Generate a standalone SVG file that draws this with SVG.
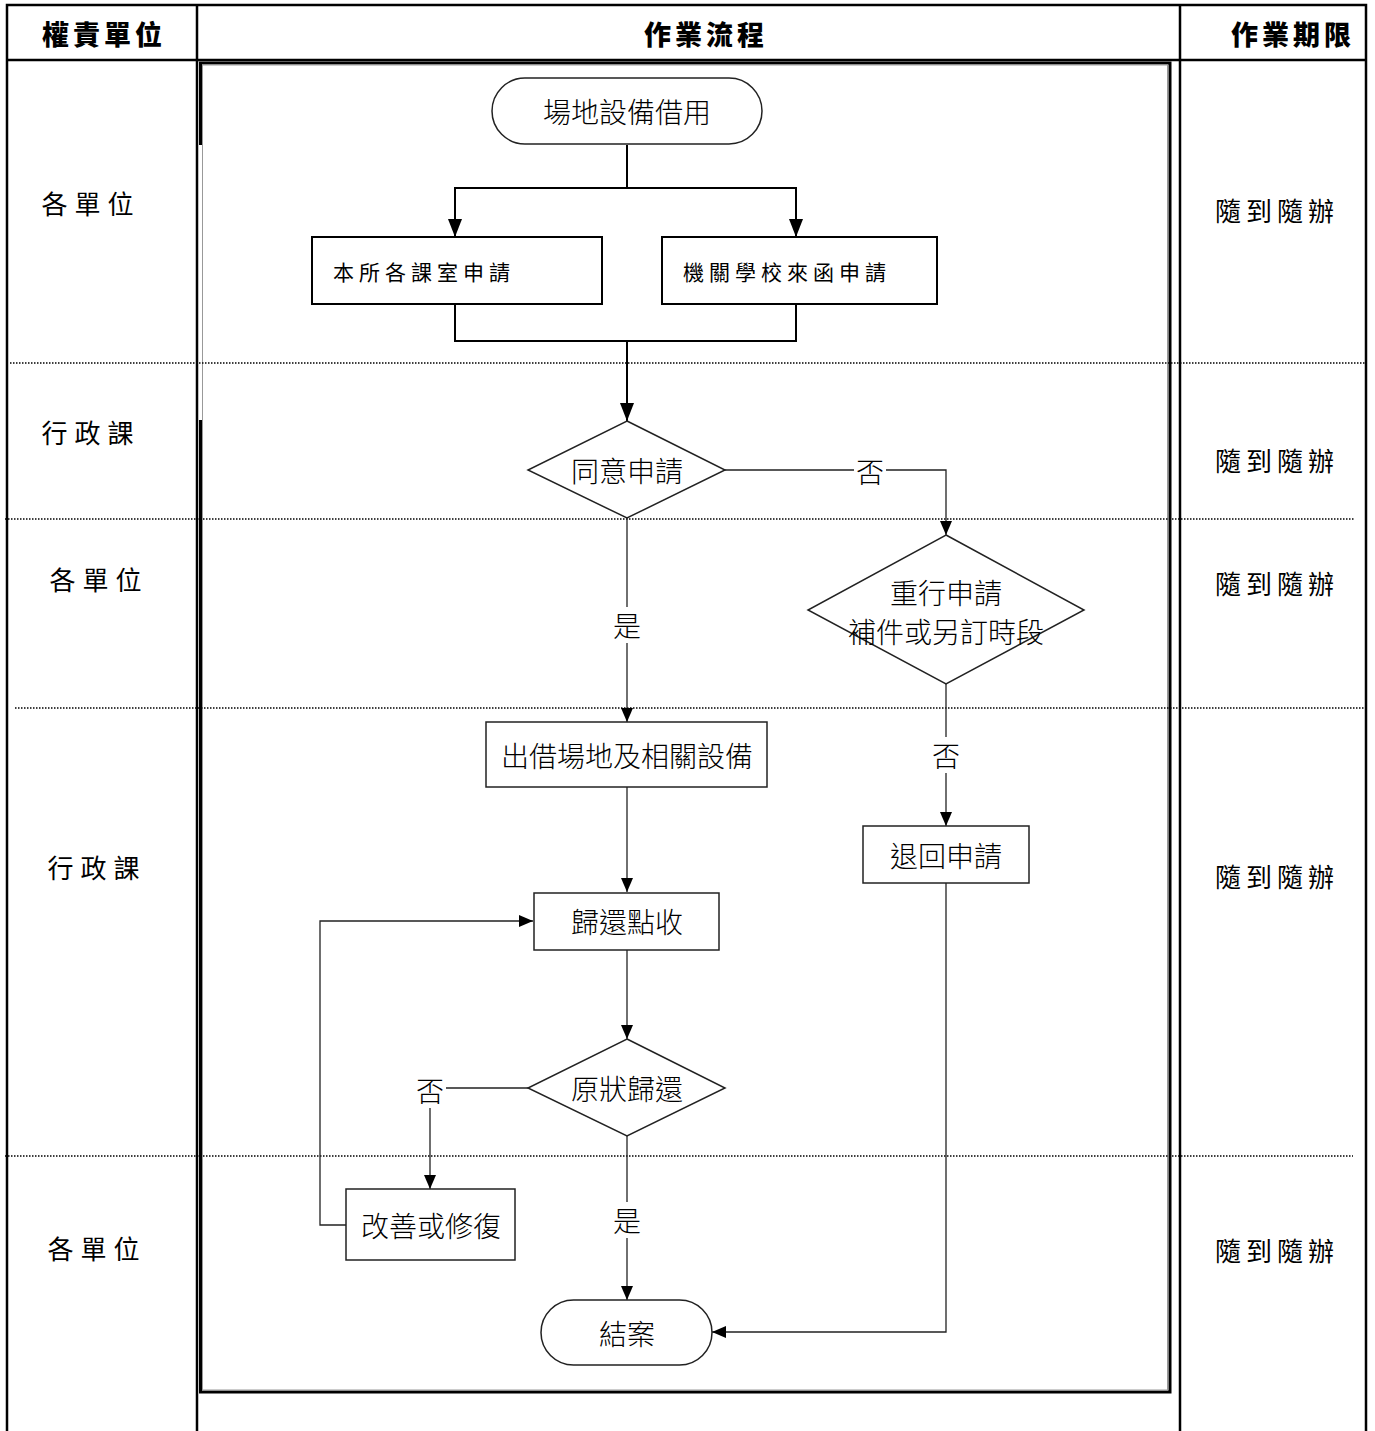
<svg xmlns="http://www.w3.org/2000/svg" width="1375" height="1431" viewBox="0 0 1375 1431">
<style>
text{font-family:"Noto Sans CJK TC","Noto Sans CJK SC",sans-serif;fill:#000;dominant-baseline:central}
.hd{font-size:27px;font-weight:900;letter-spacing:4px;text-anchor:middle}
.lane{font-size:26px;letter-spacing:7px;text-anchor:middle}
.due{font-size:26px;letter-spacing:5px;text-anchor:middle}
.sm{font-size:21px;letter-spacing:5px}
.big{font-size:28px;font-weight:300;text-anchor:middle}
.frame{fill:none;stroke:#000;stroke-width:2.5}
.dot{stroke:#000;stroke-width:1.5;stroke-dasharray:1.5 1.5;fill:none}
.thick{stroke:#000;stroke-width:2;fill:none}
.thin{stroke:#222;stroke-width:1.3;fill:none}
.box2{fill:#fff;stroke:#000;stroke-width:2}
.box{fill:#fff;stroke:#222;stroke-width:1.5}
.lbl{fill:#fff;stroke:none}
</style>
<defs>
<marker id="ah" markerUnits="userSpaceOnUse" viewBox="0 0 18 14" refX="18" refY="7" markerWidth="18" markerHeight="14" orient="auto"><path d="M0,0 L18,7 L0,14 z" fill="#000"/></marker>
<marker id="as" markerUnits="userSpaceOnUse" viewBox="0 0 14 12" refX="14" refY="6" markerWidth="14" markerHeight="12" orient="auto"><path d="M0,0 L14,6 L0,12 z" fill="#000"/></marker>
</defs>
<rect width="1375" height="1431" fill="#fff"/>
<g id="table">
<path class="frame" d="M7,1431 V5 H1366 V1431"/>
<line class="frame" x1="7" y1="60" x2="1366" y2="60"/>
<line class="frame" x1="197" y1="5" x2="197" y2="1431"/>
<line class="frame" x1="1180" y1="5" x2="1180" y2="1431"/>
<path d="M200.5,145 V63 H1170 V1392 H200.5 V420" fill="none" stroke="#000" stroke-width="3"/>
<rect x="202.5" y="65" width="965" height="1325" fill="none" stroke="#999" stroke-width="1"/>
<text class="hd" x="104" y="33">權責單位</text>
<text class="hd" x="706" y="33">作業流程</text>
<text class="hd" x="1293" y="33">作業期限</text>
</g>
<g id="lanes">
<line class="dot" x1="10" y1="363" x2="1367" y2="363"/>
<line class="dot" x1="5" y1="519" x2="1355" y2="519"/>
<line class="dot" x1="15" y1="708" x2="1367" y2="708"/>
<line class="dot" x1="5" y1="1156" x2="1353" y2="1156"/>
<text class="lane" x="91" y="202">各單位</text>
<text class="lane" x="91" y="431">行政課</text>
<text class="lane" x="99" y="578">各單位</text>
<text class="lane" x="97" y="866">行政課</text>
<text class="lane" x="97" y="1247">各單位</text>
<text class="due" x="1277" y="209">隨到隨辦</text>
<text class="due" x="1277" y="459">隨到隨辦</text>
<text class="due" x="1277" y="582">隨到隨辦</text>
<text class="due" x="1277" y="875">隨到隨辦</text>
<text class="due" x="1277" y="1249">隨到隨辦</text>
</g>
<g id="connectors">
<line class="thick" x1="627" y1="145" x2="627" y2="188"/>
<path class="thick" d="M455,237 V188 H796 V237" marker-end="url(#ah)"/>
<line class="thick" x1="455" y1="188" x2="455" y2="237" marker-end="url(#ah)"/>
<path class="thick" d="M455,304 V341 H796 V304"/>
<line class="thick" x1="627" y1="341" x2="627" y2="421" marker-end="url(#ah)"/>
<path class="thin" d="M725,470 H946 V535" marker-end="url(#as)"/>
<line class="thin" x1="627" y1="518" x2="627" y2="722" marker-end="url(#as)"/>
<line class="thin" x1="946" y1="684" x2="946" y2="826" marker-end="url(#as)"/>
<line class="thin" x1="627" y1="787" x2="627" y2="892" marker-end="url(#as)"/>
<line class="thin" x1="627" y1="950" x2="627" y2="1039" marker-end="url(#as)"/>
<path class="thin" d="M528,1088 H430 V1189" marker-end="url(#as)"/>
<path class="thin" d="M346,1225 H320 V921 H533" marker-end="url(#as)"/>
<line class="thin" x1="627" y1="1136" x2="627" y2="1300" marker-end="url(#as)"/>
<path class="thin" d="M946,883 V1332 H712" marker-end="url(#as)"/>
<rect class="lbl" x="854" y="455" width="32" height="32"/>
<text class="big" x="870" y="471">否</text>
<rect class="lbl" x="611" y="607" width="32" height="36"/>
<text class="big" x="627" y="625">是</text>
<rect class="lbl" x="930" y="737" width="32" height="36"/>
<text class="big" x="946" y="755">否</text>
<rect class="lbl" x="414" y="1072" width="32" height="36"/>
<text class="big" x="430" y="1090">否</text>
<rect class="lbl" x="611" y="1202" width="32" height="36"/>
<text class="big" x="627" y="1220">是</text>
</g>
<g id="start"><rect class="box" x="492" y="78" width="270" height="66" rx="33"/><text class="big" x="627" y="111">場地設備借用</text></g>
<g id="apply1"><rect class="box2" x="312" y="237" width="290" height="67"/><text class="sm" x="333" y="271">本所各課室申請</text></g>
<g id="apply2"><rect class="box2" x="662" y="237" width="275" height="67"/><text class="sm" x="683" y="271">機關學校來函申請</text></g>
<g id="agree"><polygon class="box" points="627,421 725,470 627,518 528,470"/><text class="big" x="627" y="470">同意申請</text></g>
<g id="reapply"><polygon class="box" points="946,535 1084,610 946,684 808,610"/><text class="big" x="946" y="592">重行申請</text><text class="big" x="946" y="631">補件或另訂時段</text></g>
<g id="lend"><rect class="box" x="486" y="722" width="281" height="65"/><text class="big" x="627" y="755">出借場地及相關設備</text></g>
<g id="reject"><rect class="box" x="863" y="826" width="166" height="57"/><text class="big" x="946" y="855">退回申請</text></g>
<g id="return"><rect class="box" x="534" y="893" width="185" height="57"/><text class="big" x="627" y="921">歸還點收</text></g>
<g id="intact"><polygon class="box" points="627,1039 725,1088 627,1136 528,1088"/><text class="big" x="627" y="1088">原狀歸還</text></g>
<g id="repair"><rect class="box" x="346" y="1189" width="169" height="71"/><text class="big" x="431" y="1225">改善或修復</text></g>
<g id="end"><rect class="box" x="541" y="1300" width="171" height="65" rx="32.5"/><text class="big" x="627" y="1333">結案</text></g>
</svg>
